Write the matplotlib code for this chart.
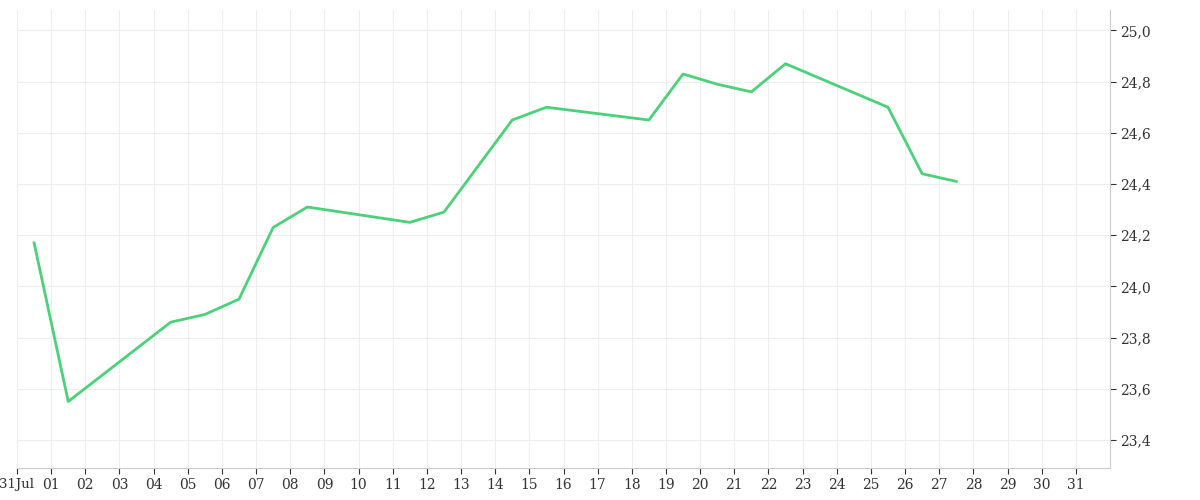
import matplotlib
matplotlib.use("Agg")
import matplotlib.pyplot as plt
import pandas as pd

dates = ["2025-07-31","2025-08-01","2025-08-04","2025-08-05","2025-08-06","2025-08-07",
         "2025-08-08","2025-08-11","2025-08-12","2025-08-14","2025-08-15","2025-08-18",
         "2025-08-19","2025-08-20","2025-08-21","2025-08-22","2025-08-25","2025-08-26","2025-08-27"]
values = [24.17,23.55,23.86,23.89,23.95,24.23,24.31,24.25,24.29,24.65,24.70,24.65,
          24.83,24.79,24.76,24.87,24.70,24.44,24.41]

x = pd.to_datetime(dates) + pd.Timedelta(hours=12)

fig = plt.figure(figsize=(12,5), dpi=100)
ax = fig.add_axes([17/1200, 32/500, 1093/1200, 458/500])
ax.plot(x, values, color="#4cd17a", lw=2)
ax.set_xlim(pd.Timestamp("2025-07-31"), pd.Timestamp("2025-09-01"))
ax.set_ylim(23.29, 25.08)
ticks = pd.date_range("2025-07-31","2025-08-31")
ax.set_xticks(ticks)
ax.set_xticklabels(["31Jul"] + [t.strftime("%d") for t in ticks[1:]])
yt = [23.4,23.6,23.8,24.0,24.2,24.4,24.6,24.8,25.0]
ax.set_yticks(yt)
ax.set_yticklabels([f"{v:.1f}".replace(".", ",") for v in yt])
ax.yaxis.tick_right()
ax.tick_params(labelsize=10, length=4, colors="#333333", labelcolor="#333333")
for l in ax.get_xticklabels()+ax.get_yticklabels():
    l.set_family("DejaVu Serif")
ax.get_xticklabels()[0].set_fontsize(9.5)
ax.grid(True, color="#eeeeee", lw=0.8)
for s in ["top","left"]:
    ax.spines[s].set_visible(False)
ax.spines["right"].set_color("#cccccc")
ax.spines["bottom"].set_color("#cccccc")
fig.savefig("out.png")
